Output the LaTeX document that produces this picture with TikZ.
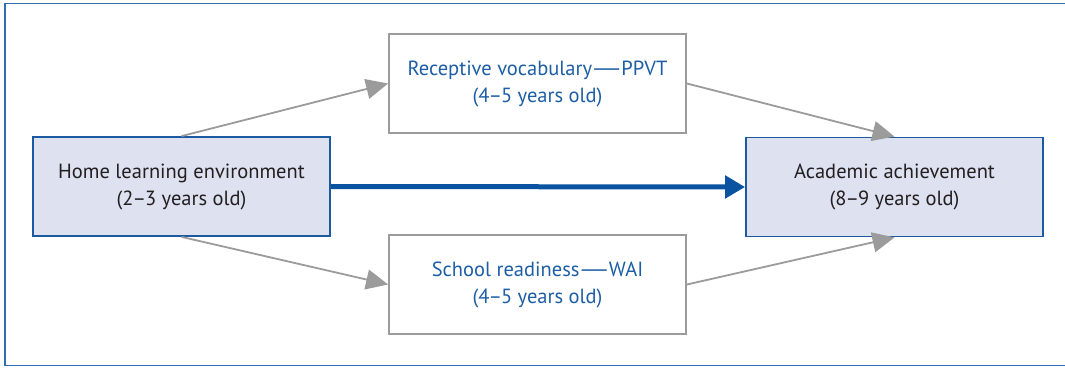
\documentclass[tikz,border=0pt]{standalone}
\usepackage{fontspec}
\setmainfont{PT Sans}
\usetikzlibrary{arrows.meta}
\definecolor{frameblue}{HTML}{2F6DB0}
\definecolor{boxblue}{HTML}{1B5AA0}
\definecolor{fillblue}{HTML}{DDE1F0}
\definecolor{textblue}{HTML}{1D5EA5}
\definecolor{arrowblue}{HTML}{0A53A0}
\definecolor{graybox}{HTML}{9B9B9B}
\definecolor{darktext}{HTML}{231F20}
\newcommand{\longdash}{\kern-3pt\scalebox{2.1}[1]{—}\kern-3pt}
\newcommand{\shortdash}{\kern-1pt–\kern-1pt}
\tikzset{
  x=1pt,y=1pt,
  basebox/.style={minimum width=297pt,minimum height=99pt,inner sep=0pt,align=center,
    font=\fontsize{20.5}{27}\selectfont},
  bluebox/.style={basebox,draw=boxblue,fill=fillblue,line width=1.8pt,text=darktext},
  graybx/.style={basebox,draw=graybox,fill=white,line width=1.8pt,text=textblue},
  grayarrow/.style={draw=graybox,line width=1.8pt,-{Triangle[length=22pt,width=20pt]}},
  bluearrow/.style={draw=arrowblue,line width=5pt,-{Triangle[length=20pt,width=22pt]}},
}
\begin{document}
\begin{tikzpicture}
\useasboundingbox (0,0) rectangle (1065,367);
\draw[frameblue,line width=1.3pt] (1066,363.5) -- (5,363.5) -- (5,1.5) -- (1066,1.5);
\node[bluebox] (home) at (181.5,180.5) {Home learning environment\\(2\shortdash3 years old)};
\node[graybx] (ppvt) at (537.5,283.5) {Receptive vocabulary\longdash PPVT\\(4\shortdash5 years old)};
\node[graybx] (wai) at (537.5,82.5) {School readiness\longdash WAI\\(4\shortdash5 years old)};
\node[bluebox] (acad) at (894.5,180) {Academic achievement\\(8\shortdash9 years old)};
\draw[grayarrow] (home.north) -- (ppvt.west);
\draw[grayarrow] (home.south) -- (wai.west);
\draw[grayarrow] (ppvt.east) -- (acad.north);
\draw[grayarrow] (wai.east) -- (acad.south);
\draw[bluearrow] (home.east) -- (acad.west);
\end{tikzpicture}
\end{document}
